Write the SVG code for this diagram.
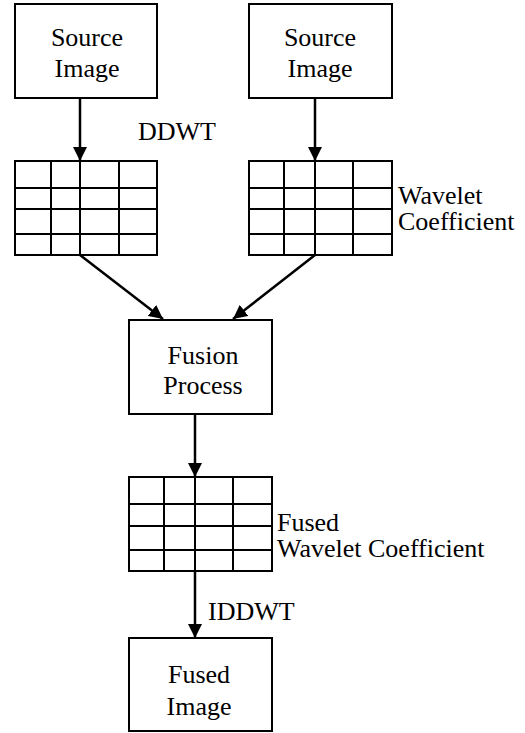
<svg xmlns="http://www.w3.org/2000/svg" width="525" height="733" viewBox="0 0 525 733">
<defs>
<marker id="ah" markerUnits="userSpaceOnUse" markerWidth="14" markerHeight="14" refX="14" refY="7" orient="auto">
<path d="M0,0 L14,7 L0,14 z" fill="#000"/>
</marker>
</defs>
<g id="src1">
<rect x="15" y="4" width="142" height="94" fill="#fff" stroke="#000" stroke-width="2"/>
<text font-family="Liberation Serif" font-size="26" text-anchor="middle" x="87" y="46">Source</text>
<text font-family="Liberation Serif" font-size="26" text-anchor="middle" x="87" y="77">Image</text>
</g>
<g id="src2">
<rect x="249" y="4" width="143" height="94" fill="#fff" stroke="#000" stroke-width="2"/>
<text font-family="Liberation Serif" font-size="26" text-anchor="middle" x="320" y="46">Source</text>
<text font-family="Liberation Serif" font-size="26" text-anchor="middle" x="320" y="77">Image</text>
</g>
<g id="grid1" fill="none" stroke="#000" stroke-width="2">
<rect x="15" y="161" width="142" height="94"/>
<path d="M15,188H157M15,209H157M15,234H157M51,161V255M80,161V255M119,161V255"/>
</g>
<g id="grid2">
<g fill="none" stroke="#000" stroke-width="2">
<rect x="249" y="161" width="143" height="94"/>
<path d="M249,188H392M249,209H392M249,234H392M284,161V255M315,161V255M353,161V255"/>
</g>
<text font-family="Liberation Serif" font-size="26" x="398" y="204">Wavelet</text>
<text font-family="Liberation Serif" font-size="26" x="398" y="230">Coefficient</text>
</g>
<g id="fusion">
<rect x="129" y="320" width="143" height="94" fill="#fff" stroke="#000" stroke-width="2"/>
<text font-family="Liberation Serif" font-size="26" text-anchor="middle" x="203" y="364">Fusion</text>
<text font-family="Liberation Serif" font-size="26" text-anchor="middle" x="203" y="394">Process</text>
</g>
<g id="grid3">
<g fill="none" stroke="#000" stroke-width="2">
<rect x="129" y="477" width="143" height="94"/>
<path d="M129,504H272M129,526H272M129,550H272M164,477V571M195,477V571M233,477V571"/>
</g>
<text font-family="Liberation Serif" font-size="26" x="277" y="531">Fused</text>
<text font-family="Liberation Serif" font-size="26" x="277" y="557">Wavelet Coefficient</text>
</g>
<g id="fused">
<rect x="129" y="638" width="143" height="93" fill="#fff" stroke="#000" stroke-width="2"/>
<text font-family="Liberation Serif" font-size="26" text-anchor="middle" x="199" y="683">Fused</text>
<text font-family="Liberation Serif" font-size="26" text-anchor="middle" x="199" y="715">Image</text>
</g>
<g id="connectors" stroke="#000" stroke-width="2.5" fill="none">
<line x1="80" y1="98" x2="80" y2="161" marker-end="url(#ah)"/>
<line x1="315" y1="98" x2="315" y2="161" marker-end="url(#ah)"/>
<line x1="80" y1="255" x2="163" y2="319" marker-end="url(#ah)"/>
<line x1="315" y1="255" x2="233" y2="319" marker-end="url(#ah)"/>
<line x1="195" y1="414" x2="195" y2="477" marker-end="url(#ah)"/>
<line x1="195" y1="571" x2="195" y2="638" marker-end="url(#ah)"/>
<text font-family="Liberation Serif" font-size="26" stroke="none" fill="#000" x="138" y="140">DDWT</text>
<text font-family="Liberation Serif" font-size="26" stroke="none" fill="#000" x="208" y="620">IDDWT</text>
</g>
</svg>
